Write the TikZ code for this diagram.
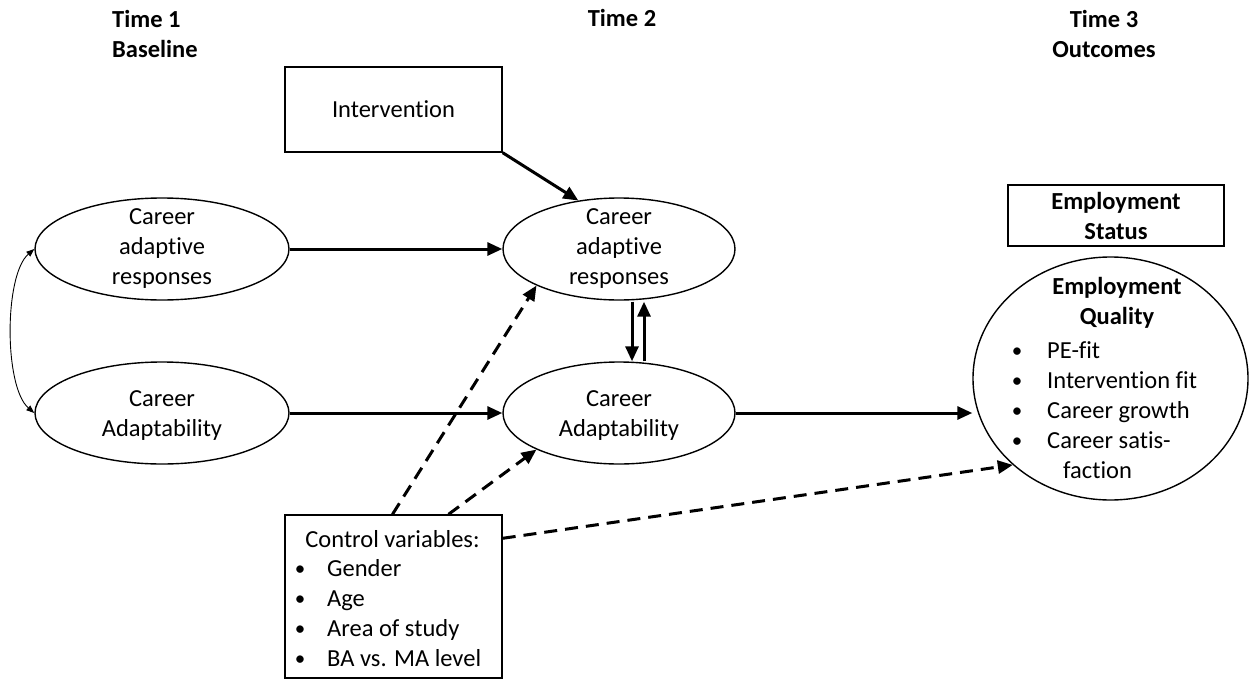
\documentclass[tikz,border=0pt]{standalone}
\usepackage{fontspec}
\setmainfont{Carlito}[Ligatures={NoCommon}]
\usetikzlibrary{arrows.meta,shapes.geometric,calc}
\newcommand\bulx[1]{\llap{\makebox[0pt]{\raisebox{1pt}{\fontsize{21}{21}\selectfont\textbullet}}\hspace{#1}}}
\begin{document}
\begin{tikzpicture}[x=1pt,y=-1pt,
  every node/.style={font=\fontsize{24.5}{30}\selectfont, inner sep=0pt},
  oval/.style={draw, ellipse, line width=1.4pt, inner sep=0pt},
  box/.style={draw, rectangle, line width=1.4pt, inner sep=0pt},
  arr/.style={line width=3pt, -{Triangle[length=15pt,width=13pt]}},
  darr/.style={arr, dash pattern=on 13pt off 8pt},
  thinarr/.style={line width=0.9pt, {Triangle[length=8pt,width=6pt]}-{Triangle[length=8pt,width=6pt]}},
  txt/.style={align=center},
  hdr/.style={align=center, font=\fontsize{24.5}{30}\selectfont\bfseries},
  item/.style={anchor=base west}]
\useasboundingbox (0,0) rectangle (1250,680);

% headers
\node[hdr, align=left, anchor=west] (t1) at (112,34) {Time 1\\Baseline};
\node[hdr] (t2) at (622,18) {Time 2};
\node[hdr] (t3) at (1104,34) {Time 3\\Outcomes};

% boxes
\node[box, minimum width=217pt, minimum height=85pt] (int) at (393.5,109.5) {Intervention};
\node[box, minimum width=216pt, minimum height=61pt] (es) at (1116,215.5) {};
\node[hdr] (est) at (es.center) {Employment\\Status};
\node[box, minimum width=217pt, minimum height=163pt] (ctrl) at (393.5,596.5) {};

% ellipses
\node[oval, minimum width=254pt, minimum height=102pt] (a1) at (162,249) {};
\node[oval, minimum width=254pt, minimum height=102pt] (a2) at (162,413) {};
\node[oval, minimum width=232pt, minimum height=102pt] (m1) at (619,249) {};
\node[oval, minimum width=232pt, minimum height=102pt] (m2) at (619,413) {};
\node[oval, minimum width=275pt, minimum height=243pt] (eq) at (1110.5,378.5) {};

% ellipse labels
\node[txt] (a1t) at (a1.center) {Career\\adaptive\\responses};
\node[txt] (a2t) at ($(a2.center)+(0,3)$) {Career\\Adaptability};
\node[txt] (m1t) at (m1.center) {Career\\adaptive\\responses};
\node[txt] (m2t) at ($(m2.center)+(0,3)$) {Career\\Adaptability};

% employment quality
\node[hdr] (eqh) at (1117,303) {Employment\\Quality};
\node[item] (q1) at (1047,358) {\bulx{30pt}PE-fit};
\node[item] (q2) at (1047,388) {\bulx{30pt}Intervention fit};
\node[item] (q3) at (1047,418) {\bulx{30pt}Career growth};
\node[item] (q4) at (1047,448) {\bulx{30pt}Career satis-};
\node[item] (q5) at (1063,478) {faction};

% control variables
\node (c0) at (392.5,539) {Control variables:};
\node[item] (c1) at (327,576) {\bulx{27pt}Gender};
\node[item] (c2) at (327,606) {\bulx{27pt}Age};
\node[item] (c3) at (327,636) {\bulx{27pt}Area of study};
\node[item] (c4) at (327,666) {\bulx{27pt}BA vs. MA level};

% connectors
\draw[arr] (int.south east) -- (m1.130);
\draw[arr] (a1.east) -- (m1.west);
\draw[arr] (a2.east) -- (m2.west);
\draw[arr] (m2.east) -- (m2.east -| eq.west);
\draw[arr] ($(m1.south)+(13,1)$) -- ($(m2.north)+(13,0)$);
\draw[arr] ($(m2.north)+(25,0)$) -- ($(m1.south)+(25,1)$);
\draw[thinarr] (a1.west) .. controls (4,275) and (4,387) .. (a2.west);
\draw[darr] ($(ctrl.north)+(-1,0)$) -- (m1.south west);
\draw[darr] ($(ctrl.north)+(55,0)$) -- (m2.south west);
\draw[darr] ($(ctrl.north east)+(0,24)$) -- (eq.south west);
\end{tikzpicture}
\end{document}
